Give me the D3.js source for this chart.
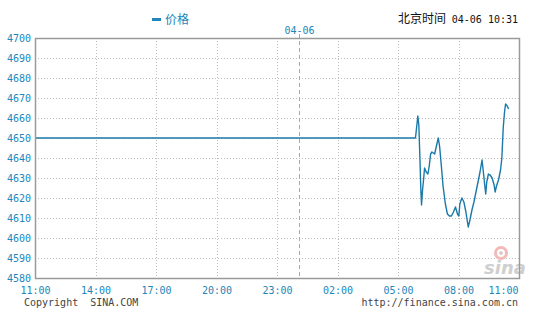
<!DOCTYPE html>
<html>
<head>
<meta charset="utf-8">
<script src="https://cdn.jsdelivr.net/npm/d3@7"></script>
<style>
    body { margin: 0; background: #fff; }
    svg { display: block; }
</style>
</head>
<body>
<div id="chart"></div>
<script>
// price series, times are Beijing time, 11:00 on 04-05 to 11:00 on 04-06
const times = ["11:00", "05:52", "05:59", "06:02", "06:05", "06:08", "06:10", "06:13", "06:16", "06:19",
    "06:24", "06:29", "06:33", "06:37", "06:41", "06:49", "06:53", "06:57", "07:00", "07:04",
    "07:09", "07:14", "07:21", "07:27", "07:33", "07:39", "07:45", "07:51", "07:57", "08:01",
    "08:04", "08:10", "08:16", "08:22", "08:29", "08:34", "08:40", "08:46", "08:52", "08:58",
    "09:04", "09:10", "09:14", "09:18", "09:21", "09:24", "09:29", "09:34", "09:40", "09:46",
    "09:49", "09:53", "09:59", "10:05", "10:09", "10:13", "10:17", "10:20", "10:25", "10:29"];
const prices = [4650, 4650, 4661, 4656.5, 4641, 4624, 4616.5, 4624, 4629, 4635,
    4633, 4632, 4636, 4642, 4643, 4642, 4645, 4648, 4650, 4645.5,
    4636, 4626, 4617, 4612, 4611, 4611, 4613, 4615.5, 4612, 4611,
    4617, 4620, 4618, 4613, 4605.5, 4609, 4614, 4618, 4623, 4628,
    4633, 4639, 4633, 4626.5, 4622, 4628, 4632, 4631.5, 4630, 4626.5,
    4623, 4626, 4629, 4634, 4640, 4655, 4663, 4667, 4666, 4664.5];
const yTicks = [4580, 4590, 4600, 4610, 4620, 4630, 4640, 4650, 4660, 4670, 4680, 4690, 4700];
const xTickLabels = ["11:00", "14:00", "17:00", "20:00", "23:00", "02:00", "05:00", "08:00", "11:00"];
const dayBreak = "00:05";
const dayLabel = "04-06";
const legendName = "价格";
const clockTitle = "北京时间";
const clockTime = "04-06 10:31";

const margin = { top: 38, right: 20, bottom: 43, left: 35 };
const g_width = 539 - margin.left - margin.right;
const g_height = 321 - margin.top - margin.bottom;

const blue = "#2286b9";
const mono = "'DejaVu Sans Mono', monospace";

// hours >= 11 belong to 04-05, the rest to 04-06 (last tick is 11:00 next day)
function toDate(s, i) {
    const [h, m] = s.split(":").map(Number);
    const day = (h >= 11 && i !== xTickLabels.length - 1) ? 5 : 6;
    return new Date(2024, 3, day, h, m);
}
function toDateData(s) {
    const [h, m] = s.split(":").map(Number);
    return new Date(2024, 3, h >= 11 ? 5 : 6, h, m);
}

const data = times.map((t, i) => ({ date: toDateData(t), price: prices[i] }));
const tickDates = xTickLabels.map((t, i) => toDate(t, i));

const svg = d3
    .select("#chart")
    .append("svg")
    .attr("width", 539)
    .attr("height", 321);

const g = svg.append("g")
    .attr("transform", `translate(${margin.left},${margin.top})`);

const x = d3
    .scaleTime()
    .domain([tickDates[0], tickDates[tickDates.length - 1]])
    .range([0, g_width]);

const y = d3
    .scaleLinear()
    .domain([yTicks[0], yTicks[yTicks.length - 1]])
    .range([g_height, 0]);

// horizontal grid
g.selectAll(".hgrid")
    .data(yTicks.slice(1, -1))
    .enter()
    .append("line")
    .attr("x1", 0)
    .attr("x2", g_width)
    .attr("y1", (d) => Math.round(y(d)) + 0.5)
    .attr("y2", (d) => Math.round(y(d)) + 0.5)
    .attr("stroke", "#bdbdbd")
    .attr("stroke-dasharray", "1,2");

// vertical grid
g.selectAll(".vgrid")
    .data(tickDates.slice(1, -1))
    .enter()
    .append("line")
    .attr("x1", (d) => Math.round(x(d)) + 0.5)
    .attr("x2", (d) => Math.round(x(d)) + 0.5)
    .attr("y1", 0)
    .attr("y2", g_height)
    .attr("stroke", "#bdbdbd")
    .attr("stroke-dasharray", "1,2");

// day break
const breakX = Math.round(x(toDateData(dayBreak))) + 0.5;
g.append("line")
    .attr("x1", breakX)
    .attr("x2", breakX)
    .attr("y1", -4)
    .attr("y2", g_height)
    .attr("stroke", "#a8a8a8")
    .attr("stroke-dasharray", "4,3");

svg.append("text")
    .attr("x", margin.left + breakX)
    .attr("y", 33.5)
    .attr("text-anchor", "middle")
    .attr("font-family", mono)
    .attr("font-size", 10)
    .attr("fill", blue)
    .text(dayLabel);

// sina watermark
const wm = g.append("g").attr("transform", `translate(${g_width - 35},${g_height - 4})`);
wm.append("circle").attr("cx", 17).attr("cy", -21).attr("r", 5.5)
    .attr("fill", "none").attr("stroke", "#f2b9b9").attr("stroke-width", 3);
wm.append("circle").attr("cx", 17).attr("cy", -21).attr("r", 1.8).attr("fill", "#d8c0c0");
wm.append("text")
    .attr("x", 0)
    .attr("y", 0)
    .attr("font-family", "'DejaVu Sans', sans-serif")
    .attr("font-size", 18)
    .attr("font-style", "italic")
    .attr("font-weight", "bold")
    .attr("fill", "#cfcfcf")
    .text("sina");

// price line
const line = d3.line()
    .x((d) => x(d.date))
    .y((d) => y(d.price));

g.append("path")
    .datum(data)
    .attr("fill", "none")
    .attr("stroke", "#1b79a9")
    .attr("stroke-width", 1.4)
    .attr("stroke-linejoin", "round")
    .attr("d", line);

// border
g.append("rect")
    .attr("x", 0.5)
    .attr("y", 0.5)
    .attr("width", g_width)
    .attr("height", g_height)
    .attr("fill", "none")
    .attr("stroke", "#9a9a9a")
    .attr("stroke-width", 1.5);

// y axis
const yAxis = g.append("g")
    .call(d3.axisLeft(y).tickValues(yTicks).tickSize(0).tickPadding(4).tickFormat(d3.format("d")));
yAxis.select(".domain").remove();
yAxis.selectAll("text")
    .attr("font-family", mono)
    .attr("font-size", 10)
    .attr("fill", blue);

// x axis
const xAxis = g.append("g")
    .attr("transform", `translate(0,${g_height})`)
    .call(d3.axisBottom(x).tickValues(tickDates).tickSize(0).tickPadding(9)
        .tickFormat((d, i) => xTickLabels[i]));
xAxis.select(".domain").remove();
xAxis.selectAll("text")
    .attr("font-family", mono)
    .attr("font-size", 10)
    .attr("fill", blue);
xAxis.selectAll(".tick:last-of-type text")
    .attr("text-anchor", "end")
    .attr("x", -1);

// legend
svg.append("rect")
    .attr("x", 152)
    .attr("y", 18)
    .attr("width", 9)
    .attr("height", 3)
    .attr("fill", blue);
svg.append("text")
    .attr("x", 165)
    .attr("y", 24)
    .attr("font-family", "'Noto Sans CJK SC', sans-serif")
    .attr("font-size", 12)
    .attr("fill", blue)
    .text(legendName);

// clock
svg.append("text")
    .attr("x", 446)
    .attr("y", 23)
    .attr("text-anchor", "end")
    .attr("fill", "#111")
    .attr("font-family", "'Noto Sans CJK SC', sans-serif")
    .attr("font-size", 12)
    .text(clockTitle);
svg.append("text")
    .attr("x", 518)
    .attr("y", 23)
    .attr("text-anchor", "end")
    .attr("fill", "#111")
    .attr("font-family", mono)
    .attr("font-size", 10)
    .text(clockTime);

// footer
svg.append("text")
    .attr("x", 24)
    .attr("y", 306)
    .attr("font-family", mono)
    .attr("font-size", 10)
    .attr("fill", "#444")
    .attr("xml:space", "preserve")
    .style("white-space", "pre")
    .text("Copyright  SINA.COM");
svg.append("text")
    .attr("x", 518)
    .attr("y", 306)
    .attr("text-anchor", "end")
    .attr("font-family", mono)
    .attr("font-size", 10)
    .attr("fill", "#444")
    .text("http://finance.sina.com.cn");
</script>
</body>
</html>
